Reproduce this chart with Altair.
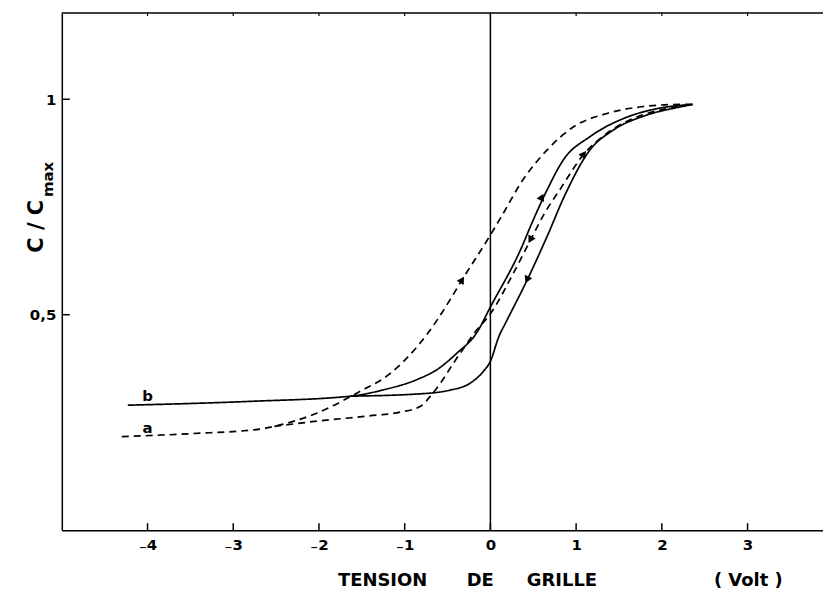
import json
import altair as alt
import pandas as pd

# ---------------- data ----------------
# curve b (solid), rising branch
b_up_v = [-4.23, -2.79, -1.63, -1.24, -0.85, -0.62, -0.39, -0.16, 0.0, 0.35, 0.50, 0.66, 0.85, 1.16, 1.55, 1.94, 2.36]
b_up_c = [0.290, 0.299, 0.311, 0.326, 0.350, 0.373, 0.411, 0.458, 0.518, 0.650, 0.720, 0.789, 0.859, 0.913, 0.955, 0.978, 0.988]
# curve b (solid), returning branch
b_dn_v = [-1.63, -0.85, -0.47, -0.23, -0.08, 0.0, 0.10, 0.18, 0.43, 0.66, 0.87, 1.16, 1.43, 1.82, 2.21, 2.36]
b_dn_c = [0.311, 0.316, 0.325, 0.342, 0.369, 0.392, 0.450, 0.482, 0.581, 0.681, 0.778, 0.882, 0.928, 0.963, 0.982, 0.988]
# curve a (dashed), outer branch
a_up_v = [-4.30, -3.49, -2.67, -2.52, -2.02, -1.55, -1.16, -0.85, -0.62, -0.47, -0.33, 0.0, 0.12, 0.38, 0.66, 0.97, 1.36, 1.74, 2.21, 2.40]
a_up_c = [0.217, 0.224, 0.235, 0.241, 0.272, 0.319, 0.365, 0.427, 0.488, 0.535, 0.581, 0.685, 0.725, 0.813, 0.882, 0.936, 0.967, 0.982, 0.988, 0.988]
# curve a (dashed), inner branch
a_dn_v = [-2.52, -2.02, -1.43, -1.05, -0.81, -0.70, -0.58, -0.43, -0.27, -0.19, 0.0, 0.27, 0.47, 0.63, 0.81, 1.08, 1.36, 1.71, 2.05, 2.36]
a_dn_c = [0.241, 0.253, 0.265, 0.274, 0.288, 0.311, 0.342, 0.388, 0.434, 0.457, 0.502, 0.597, 0.674, 0.735, 0.790, 0.870, 0.921, 0.959, 0.978, 0.988]

# arrow heads on the branches
arrow_v = [-0.33, 0.60, 0.465, 0.427, 1.09]
arrow_c = [0.581, 0.773, 0.674, 0.581, 0.873]
arrow_angle = [32, 25, 209, 205, 35]

# curve labels
label_text = ["b", "a"]
label_v = [-4.0, -4.0]
label_c = [0.311, 0.236]

# ticks
x_ticks = [-4, -3, -2, -1, 0, 1, 2, 3]
x_tick_labels = ["\u208b4", "\u208b3", "\u208b2", "\u208b1", "0", "1", "2", "3"]
y_ticks = [0.5, 1]
y_tick_labels = ["0,5", "1"]

x_title_words = ["TENSION", "DE", "GRILLE", "( Volt )"]
y_title_main = "C / C"
y_title_sub = "max"

# ---------------- layout ----------------
W, H = 764, 519
XMIN, XMAX = -5, 3.88
FONT = "DejaVu Sans"
x_title_px = [322, 420, 502, 689]

rows = []
for name, style, vs, cs in [
    ("b_up", "solid", b_up_v, b_up_c),
    ("b_dn", "solid", b_dn_v, b_dn_c),
    ("a_up", "dashed", a_up_v, a_up_c),
    ("a_dn", "dashed", a_dn_v, a_dn_c),
]:
    for i, (v, c) in enumerate(zip(vs, cs)):
        rows.append({"v": v, "c": c, "branch": name, "style": style, "order": i})
curves = pd.DataFrame(rows)

xscale = alt.Scale(domain=[XMIN, XMAX], nice=False, zero=False)
yscale = alt.Scale(domain=[0, 1.2], nice=False, zero=False)

x_expr = f"{json.dumps(x_tick_labels, ensure_ascii=False)}[indexof({json.dumps(x_ticks)}, datum.value)]"
y_expr = f"{json.dumps(y_tick_labels, ensure_ascii=False)}[indexof({json.dumps(y_ticks)}, datum.value)]"

x_axis = alt.Axis(values=x_ticks, labelExpr=x_expr, ticks=False, grid=False, domain=True,
                  domainColor="black", domainWidth=1.5, labelFont=FONT, labelFontSize=15,
                  labelFontWeight="bold", labelColor="black", labelPadding=7, title=None)
y_axis = alt.Axis(values=y_ticks, labelExpr=y_expr, ticks=False, grid=False, domain=True,
                  domainColor="black", domainWidth=1.5, labelFont=FONT, labelFontSize=15,
                  labelFontWeight="bold", labelColor="black", labelPadding=6, title=None)

lines = alt.Chart(curves).mark_line(color="black", strokeWidth=1.7, interpolate="monotone").encode(
    x=alt.X("v:Q", scale=xscale, axis=x_axis),
    y=alt.Y("c:Q", scale=yscale, axis=y_axis),
    detail="branch:N",
    order="order:Q",
    strokeDash=alt.StrokeDash("style:N", scale=alt.Scale(domain=["solid", "dashed"], range=[[1, 0], [7, 5]]), legend=None),
)

zero_line = alt.Chart(pd.DataFrame({"v": [0]})).mark_rule(color="black", strokeWidth=1.5).encode(
    x=alt.X("v:Q", scale=xscale)
)

arrows = alt.Chart(pd.DataFrame({"v": arrow_v, "c": arrow_c, "ang": arrow_angle})).mark_point(
    shape="triangle-up", filled=True, color="black", size=70, opacity=1
).encode(
    x=alt.X("v:Q", scale=xscale),
    y=alt.Y("c:Q", scale=yscale),
    angle=alt.Angle("ang:Q", scale=None),
)

labels = alt.Chart(pd.DataFrame({"v": label_v, "c": label_c, "t": label_text})).mark_text(
    font=FONT, fontSize=15, fontWeight="bold", color="black", align="center", baseline="middle"
).encode(x=alt.X("v:Q", scale=xscale), y=alt.Y("c:Q", scale=yscale), text="t:N")

xt = pd.DataFrame({"v": x_ticks})
x_tick_marks = alt.Chart(xt).mark_rule(color="black", strokeWidth=1.5).encode(
    x=alt.X("v:Q", scale=xscale), y=alt.value(H), y2=alt.value(H - 7)
)
top_tick_marks = alt.Chart(xt).mark_rule(color="black", strokeWidth=1.2).encode(
    x=alt.X("v:Q", scale=xscale), y=alt.value(0), y2=alt.value(3)
)
y_tick_marks = alt.Chart(pd.DataFrame({"c": y_ticks})).mark_rule(color="black", strokeWidth=1.5).encode(
    y=alt.Y("c:Q", scale=yscale), x=alt.value(0), x2=alt.value(8)
)
top_frame = alt.Chart(pd.DataFrame({"k": [0]})).mark_rule(color="black", strokeWidth=1.5).encode(
    x=alt.value(0), x2=alt.value(W), y=alt.value(0)
)

title_layers = []
for word, px in zip(x_title_words, x_title_px):
    title_layers.append(
        alt.Chart(pd.DataFrame({"t": [word]})).mark_text(
            font=FONT, fontSize=18, fontWeight="bold", color="black", align="center", baseline="middle"
        ).encode(x=alt.value(px), y=alt.value(570), text="t:N")
    )

y_title1 = alt.Chart(pd.DataFrame({"t": [y_title_main]})).mark_text(
    font=FONT, fontSize=21, fontWeight="bold", color="black", align="center", baseline="alphabetic", angle=270
).encode(x=alt.value(-19), y=alt.value(214), text="t:N")
y_title2 = alt.Chart(pd.DataFrame({"t": [y_title_sub]})).mark_text(
    font=FONT, fontSize=15, fontWeight="bold", color="black", align="center", baseline="alphabetic", angle=270
).encode(x=alt.value(-9), y=alt.value(167), text="t:N")

chart = alt.layer(
    lines, zero_line, arrows, labels, x_tick_marks, top_tick_marks, y_tick_marks, top_frame,
    y_title1, y_title2, *title_layers
).properties(
    width=W, height=H,
    autosize=alt.AutoSizeParams(type="none"),
    padding={"left": 54, "top": 4, "right": 0, "bottom": 63},
).configure_view(stroke="transparent")

chart.save("out.html", embed_options={"renderer": "svg", "actions": False})
